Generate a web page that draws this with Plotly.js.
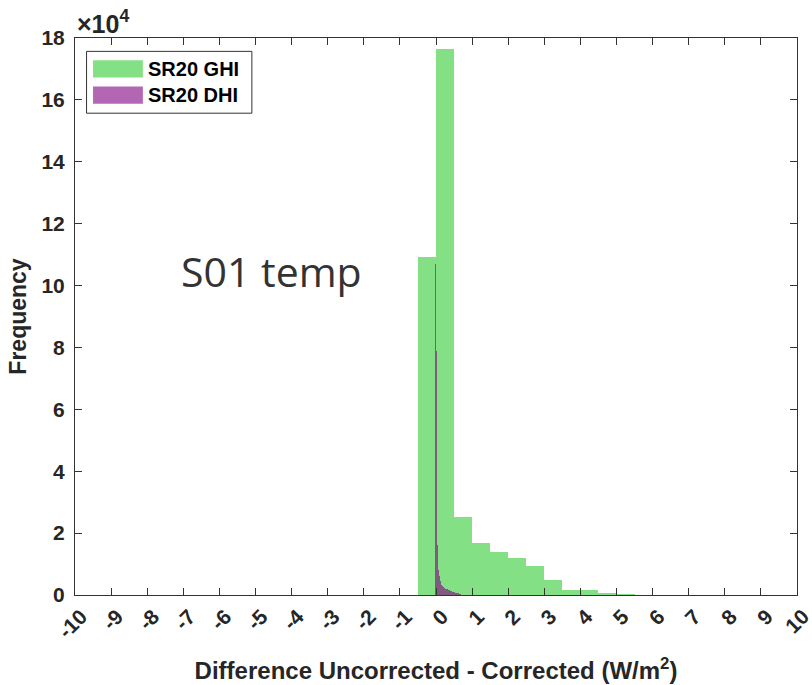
<!DOCTYPE html>
<html>
<head>
<meta charset="utf-8">
<script src="https://cdn.plot.ly/plotly-3.0.1.min.js"></script>
<style>html,body{margin:0;padding:0;background:#fff;}#chart{width:812px;height:685px;}</style>
</head>
<body>
<div id="chart"></div>
<script>
// GHI histogram: bin left edges (W/m^2) and counts
const ghiEdges = [-0.5, 0, 0.5, 1, 1.5, 2, 2.5, 3, 3.5, 4, 4.5, 5];
const ghiCounts = [109100, 176600, 25100, 16800, 13800, 12100, 9400, 4700, 1600, 1500, 600, 300];
const ghiBinWidth = 0.5;

// DHI histogram: bin left edges and counts (fine bins)
const dhiEdges = [-0.025, 0, 0.025, 0.05, 0.075, 0.1, 0.125, 0.15, 0.175, 0.2, 0.225, 0.25, 0.275, 0.3, 0.325, 0.35, 0.375, 0.4, 0.425, 0.45, 0.475, 0.5, 0.525, 0.55, 0.575, 0.6, 0.625, 0.65, 0.675, 0.7];
const dhiCounts = [107000, 79000, 16000, 8000, 6000, 4500, 3800, 3100, 2800, 2500, 2300, 2100, 1900, 1800, 1700, 1500, 1400, 1300, 1200, 1100, 1000, 900, 800, 700, 600, 500, 400, 300, 200, 100];
const dhiBinWidth = 0.025;

const seriesNames = ['SR20 GHI', 'SR20 DHI'];
const xTickVals = [-10,-9,-8,-7,-6,-5,-4,-3,-2,-1,0,1,2,3,4,5,6,7,8,9,10];
const xTickText = ['-10','-9','-8','-7','-6','-5','-4','-3','-2','-1','0','1','2','3','4','5','6','7','8','9','10'];
const yTickVals = [0,20000,40000,60000,80000,100000,120000,140000,160000,180000];
const yTickText = ['0','2','4','6','8','10','12','14','16','18'];

const green = '#84e084';
const purple = 'rgba(127,0,130,0.6)';
const font = 'Liberation Sans, Arial, sans-serif';

const traces = [
  {type:'bar', name:seriesNames[0], x:ghiEdges, y:ghiCounts, width:ghiBinWidth, offset:0,
   marker:{color:green, line:{width:0}}, showlegend:false},
  {type:'bar', name:seriesNames[1], x:dhiEdges, y:dhiCounts, width:dhiBinWidth, offset:0,
   marker:{color:purple, line:{width:0}}, showlegend:false}
];

const axisCommon = {
  showline:true, linecolor:'#333', linewidth:1, mirror:'ticks',
  ticks:'inside', ticklen:7, tickcolor:'#333', tickwidth:1,
  showgrid:false, zeroline:false,
  tickfont:{family:font, size:21, color:'#262626', weight:'bold'}
};

const layout = {
  width:812, height:685,
  margin:{l:75, r:15, t:38, b:90},
  paper_bgcolor:'#fff', plot_bgcolor:'#fff',
  barmode:'overlay', bargap:0,
  xaxis:Object.assign({}, axisCommon, {
    range:[-10,10], tickmode:'array', tickvals:xTickVals, ticktext:xTickText, tickangle:-45,
    ticklabelshift:6, ticklabeloverflow:'allow',
    title:{text:'<b>Difference Uncorrected - Corrected (W/m<sup>2</sup>)</b>', font:{family:font, size:24, color:'#262626'}, standoff:20}
  }),
  yaxis:Object.assign({}, axisCommon, {
    range:[0,180000], tickmode:'array', tickvals:yTickVals, ticktext:yTickText,
    ticklabelstandoff:5,
    title:{text:'<b>Frequency</b>', font:{family:font, size:23, color:'#262626'}, standoff:8}
  }),
  shapes:[
    {type:'rect', xref:'paper', yref:'paper', x0:0.016, x1:0.245, y0:0.865, y1:0.976, line:{color:'#333', width:1}, fillcolor:'#fff', layer:'above'},
    {type:'rect', xref:'paper', yref:'paper', x0:0.025, x1:0.094, y0:0.929, y1:0.960, line:{width:0}, fillcolor:green, layer:'above'},
    {type:'rect', xref:'paper', yref:'paper', x0:0.025, x1:0.094, y0:0.882, y1:0.913, line:{width:0}, fillcolor:'rgba(127,0,130,0.6)', layer:'above'}
  ],
  annotations:[
    {xref:'paper', yref:'paper', x:0.099, y:0.945, xanchor:'left', yanchor:'middle', showarrow:false,
     text:'<b>'+seriesNames[0]+'</b>', font:{family:font, size:20, color:'#000'}},
    {xref:'paper', yref:'paper', x:0.099, y:0.898, xanchor:'left', yanchor:'middle', showarrow:false,
     text:'<b>'+seriesNames[1]+'</b>', font:{family:font, size:20, color:'#000'}},
    {xref:'paper', yref:'paper', x:0, y:1, xanchor:'left', yanchor:'bottom', yshift:-2, showarrow:false,
     text:'<b>×10<sup>4</sup></b>', font:{family:font, size:25, color:'#262626'}},
    {xref:'paper', yref:'paper', x:0.272, y:0.582, xanchor:'center', yanchor:'middle', showarrow:false,
     text:'S01 temp', font:{family:'Open Sans, sans-serif', size:41, color:'#333'}}
  ]
};

Plotly.newPlot('chart', traces, layout, {displayModeBar:false, staticPlot:true});
</script>
</body>
</html>
